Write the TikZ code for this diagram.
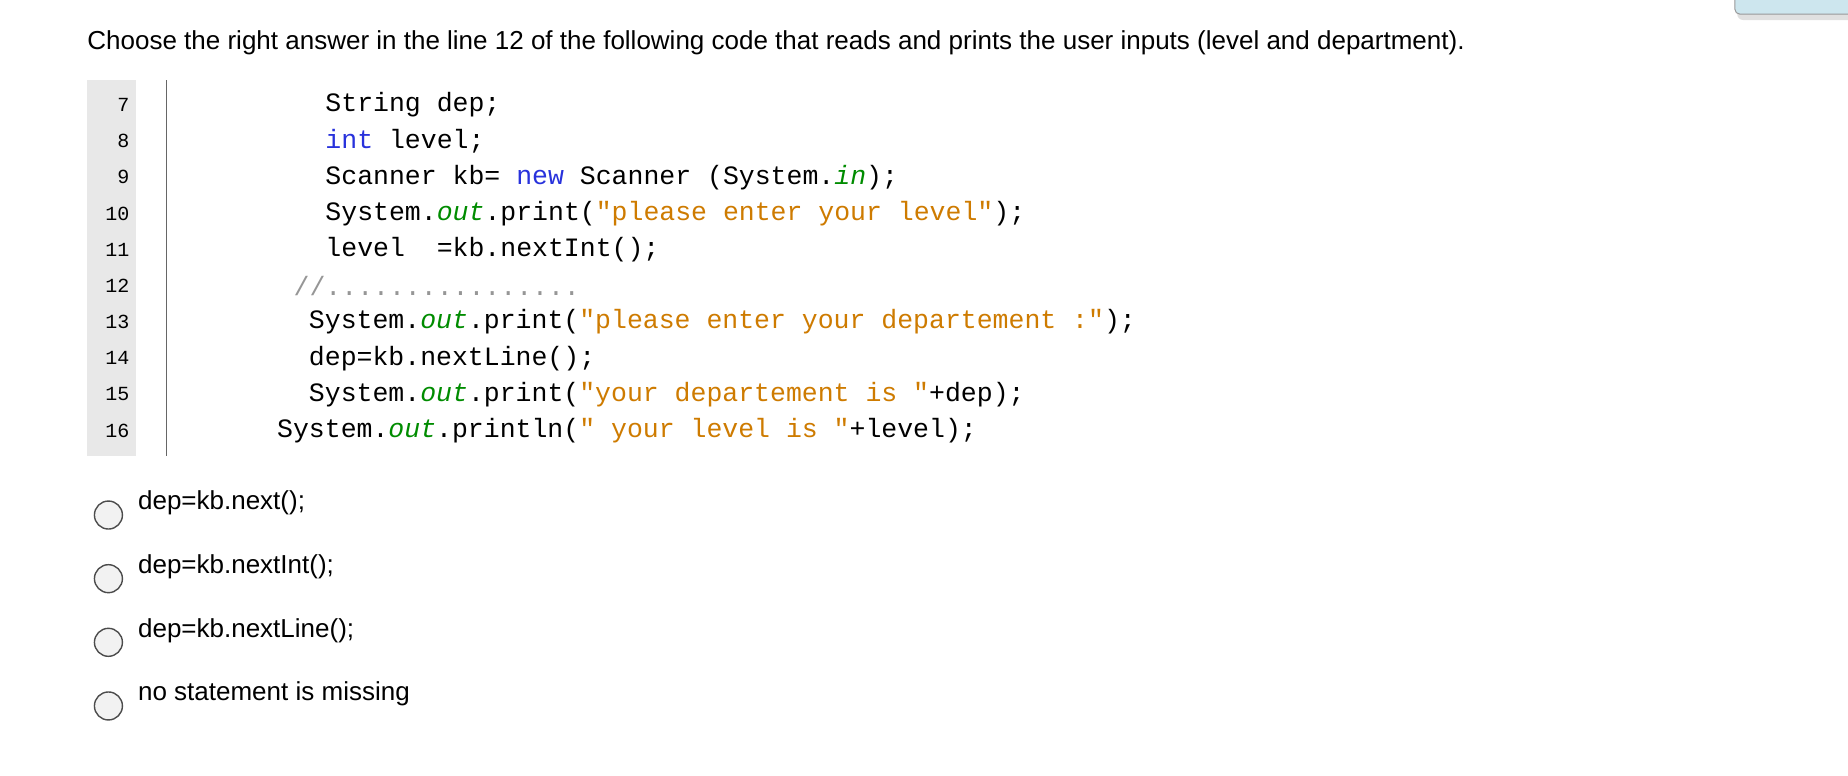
\documentclass[tikz,border=0pt]{standalone}
\usepackage{fontspec}
\setmainfont{Liberation Sans}
\newfontfamily\codefont{Liberation Mono}
\definecolor{kw}{RGB}{40,50,220}
\definecolor{fld}{RGB}{0,140,0}
\definecolor{str}{RGB}{206,123,0}
\definecolor{cmt}{RGB}{150,150,150}
\definecolor{gut}{RGB}{232,232,232}
\definecolor{boxfill}{RGB}{205,230,238}
\newcommand{\K}[1]{\textcolor{kw}{#1}}
\newcommand{\F}[1]{\textcolor{fld}{\itshape #1}}
\newcommand{\Sx}[1]{\textcolor{str}{#1}}
\begin{document}
\begin{tikzpicture}[x=1.1786pt,y=-1.1786pt,
  title/.style={anchor=west,inner sep=0,font=\fontsize{26}{30}\selectfont},
  code/.style={anchor=west,inner sep=0,font=\codefont\fontsize{26.5}{30}\selectfont},
  lnum/.style={anchor=east,inner sep=0,font=\codefont\fontsize{20}{24}\selectfont},
  radio/.style={circle,draw=black!70,line width=1.4pt,fill=black!5,minimum size=28pt,inner sep=0},
  ans/.style={anchor=west,inner sep=0,font=\fontsize{26}{30}\selectfont}]
\useasboundingbox (0,0) rectangle (1568,657.6);
\fill[white] (0,0) rectangle (1568,657.6);
% top right box
\fill[black!12,rounded corners=6pt] (1474,-10) rectangle (1580,17);
\draw[black!40,fill=boxfill,line width=1pt,rounded corners=5pt] (1472,-10) rectangle (1580,12);
\node[title] (t) at (74,36) {Choose the right answer in the line 12 of the following code that reads and prints the user inputs (level and department).};
% gutter
\fill[gut] (74,68) rectangle (115,387);
\draw[black!60,line width=1.3pt] (141,68) -- (141,387);
\foreach \n [count=\i from 0] in {7,...,16}
  \node[lnum] (n\n) at (110,{89+30.7*\i}) {\n};
\node[code] (c7) at (276,89) {String dep;};
\node[code] (c8) at (276,119.7) {\K{int} level;};
\node[code] (c9) at (276,150.4) {Scanner kb= \K{new} Scanner (System.\F{in});};
\node[code] (c10) at (276,181.1) {System.\F{out}.print(\Sx{"please enter your level"});};
\node[code] (c11) at (276,211.8) {level\ \ =kb.nextInt();};
\node[code] (c12) at (249,242.5) {\textcolor{cmt}{//................}};
\node[code] (c13) at (262,273.2) {System.\F{out}.print(\Sx{"please enter your departement :"});};
\node[code] (c14) at (262,303.9) {dep=kb.nextLine();};
\node[code] (c15) at (262,334.6) {System.\F{out}.print(\Sx{"your departement is "}+dep);};
\node[code] (c16) at (235,365.3) {System.\F{out}.println(\Sx{" your level is "}+level);};
% answers
\node[radio] (r1) at (92,437) {};
\node[radio] (r2) at (92,491) {};
\node[radio] (r3) at (92,545) {};
\node[radio] (r4) at (92,599) {};
\node[ans] (a1) at (117,427) {dep=kb.next();};
\node[ans] (a2) at (117,481) {dep=kb.nextInt();};
\node[ans] (a3) at (117,535) {dep=kb.nextLine();};
\node[ans] (a4) at (117,589) {no statement is missing};
\end{tikzpicture}
\end{document}
